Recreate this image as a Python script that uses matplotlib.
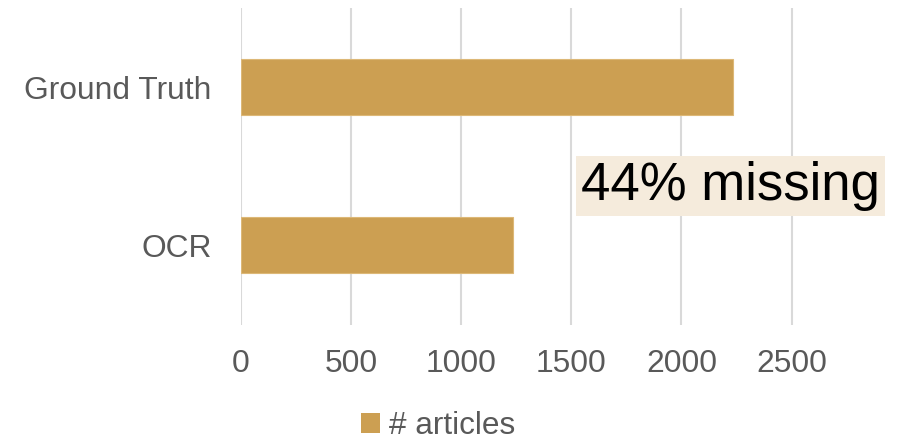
import matplotlib.pyplot as plt
from matplotlib.patches import Patch

categories = ['OCR', 'Ground Truth']
articles = [1235, 2232]
xticks = [0, 500, 1000, 1500, 2000, 2500]
note = '44% missing'

bar_color = '#CC9F52'
text_color = '#595959'

plt.rcParams['font.family'] = ['Liberation Sans', 'DejaVu Sans']

fig = plt.figure(figsize=(9.05, 4.4), dpi=100)
ax = fig.add_axes([0.2663, 0.2614, 0.7057, 0.7204])

ax.barh(range(len(categories)), articles, height=0.355, color=bar_color,
        edgecolor='#DDB877', linewidth=0.8, zorder=3)

ax.set_xlim(0, 2900)
ax.set_ylim(-0.505, 1.5)
ax.set_xticks(xticks)
ax.set_xticklabels([str(t) for t in xticks])
ax.set_yticks(range(len(categories)))
ax.set_yticklabels(categories)
ax.tick_params(axis='both', length=0, labelsize=22.9, colors=text_color)
ax.tick_params(axis='y', pad=21)
ax.tick_params(axis='x', pad=17)
ax.grid(axis='x', color='#D9D9D9', linewidth=1.5, zorder=0)
for s in ax.spines.values():
    s.set_visible(False)

ax.text(1545, 0.375, note, fontsize=38, color='black', ha='left', va='center',
        zorder=5, bbox=dict(boxstyle='square,pad=0.1', facecolor='#F5EBDC',
                            edgecolor='none'))

handle = Patch(facecolor=bar_color, edgecolor='none')
fig.legend([handle], ['# articles'], loc='center', bbox_to_anchor=(0.484, 0.032),
           frameon=False, fontsize=22.7, labelcolor=text_color,
           handlelength=0.6, handleheight=0.6, handletextpad=0.3)

fig.savefig('out.png', dpi=100)
